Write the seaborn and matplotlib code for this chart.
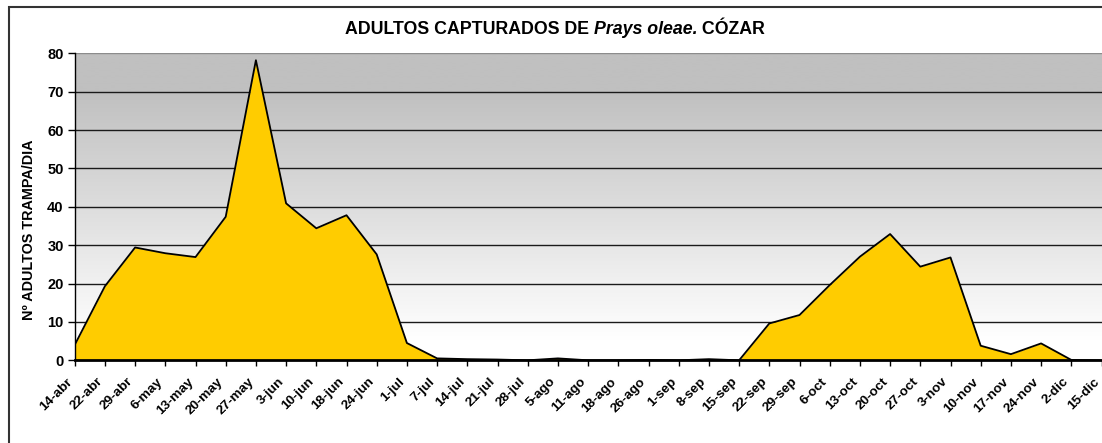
"""
Adultos de Prays oleae capturados en Cózar (trampa/día), gráfico de área.
"""

import matplotlib
matplotlib.use('Agg')
import matplotlib.pyplot as plt
import matplotlib.transforms as mtransforms
from matplotlib.patches import Rectangle
from matplotlib.colors import LinearSegmentedColormap
import numpy as np
import pandas as pd
import seaborn as sns

# DATOS

fechas = ["14-abr", "22-abr", "29-abr", "6-may", "13-may", "20-may", "27-may",
          "3-jun", "10-jun", "18-jun", "24-jun", "1-jul", "7-jul", "14-jul",
          "21-jul", "28-jul", "5-ago", "11-ago", "18-ago", "26-ago", "1-sep",
          "8-sep", "15-sep", "22-sep", "29-sep", "6-oct", "13-oct", "20-oct",
          "27-oct", "3-nov", "10-nov", "17-nov", "24-nov", "2-dic", "15-dic"]

adultos = [4.0, 19.3, 29.4, 27.9, 26.9, 37.4, 78.2,
           40.9, 34.4, 37.8, 27.6, 4.5, 0.5, 0.3,
           0.2, 0.0, 0.5, 0.0, 0.0, 0.1, 0.0,
           0.3, 0.0, 9.6, 11.8, 19.6, 27.0, 32.9,
           24.4, 26.8, 3.8, 1.6, 4.4, 0.1, 0.0]

y_ticks = [0, 10, 20, 30, 40, 50, 60, 70, 80]

sns.set_style("white")
plt.rcParams['font.family'] = ['Liberation Sans', 'DejaVu Sans']
plt.rcParams['font.weight'] = 'bold'
plt.rcParams['text.color'] = 'black'
plt.rcParams['xtick.color'] = 'black'
plt.rcParams['ytick.color'] = 'black'

df = pd.DataFrame({"pos": range(len(fechas)), "fecha": fechas, "adultos": adultos})

W, H = 1102, 443
fig = plt.figure(figsize=(W / 100, H / 100), dpi=100)
ax = fig.add_axes([74.7 / W, 1 - 360.3 / H, (1101.5 - 74.7) / W, (360.3 - 53.3) / H])

# fondo degradado gris -> blanco
vals = np.linspace(80, 0, 400)
level = np.clip((vals - 5) / (70 - 5), 0, 1)
cmap = LinearSegmentedColormap.from_list("fondo", ["#ffffff", "#c0c0c0"])
ax.imshow(level.reshape(-1, 1), cmap=cmap, vmin=0, vmax=1, aspect='auto',
          extent=[0, len(fechas) - 1, 0, 80], zorder=0, interpolation='bilinear')

# lineas de rejilla
for yt in y_ticks[1:]:
    ax.axhline(yt, color="#1a1a1a" if yt < 80 else "#8c8c8c", lw=1.0, zorder=0.5)

# area
ax.fill_between(df["pos"], df["adultos"], color="#ffcc00", zorder=1, lw=0)
sns.lineplot(data=df, x="pos", y="adultos", color="black", lw=1.3, ax=ax, zorder=2)

ax.set_xlim(0, len(fechas) - 1)
ax.set_ylim(0, 80)
ax.set_xlabel("")
ax.set_ylabel("")

ax.set_yticks(y_ticks)
ax.set_yticklabels([str(v) for v in y_ticks], fontsize=10.5, fontweight='bold')
ax.set_xticks(df["pos"])
ax.set_xticklabels(fechas, rotation=45, ha='right', va='top', fontsize=9.7, fontweight='bold')

# desplaza las etiquetas como en Excel
offset = mtransforms.ScaledTranslation(-2 / 100, 0, fig.dpi_scale_trans)
for lab in ax.get_xticklabels():
    lab.set_transform(lab.get_transform() + offset)

ax.tick_params(axis='x', direction='out', length=4, width=1, color='black', pad=7, bottom=True)
ax.tick_params(axis='y', direction='out', length=5, width=1, color='black', pad=3, left=True)

for side in ["top", "right"]:
    ax.spines[side].set_visible(False)
ax.spines["left"].set_color("black")
ax.spines["left"].set_linewidth(1.0)
ax.spines["bottom"].set_color("black")
ax.spines["bottom"].set_linewidth(2.0)
ax.spines["bottom"].set_zorder(3)

# eje y
fig.text(29.5 / W, 1 - 230 / H, "Nº ADULTOS TRAMPA/DIA", rotation=90,
         ha='center', va='center', fontsize=10.4, fontweight='bold')

# titulo con parte en cursiva
partes = [("ADULTOS CAPTURADOS DE ", 'normal'), ("Prays oleae.", 'italic'), (" CÓZAR", 'normal')]
textos = [fig.text(0, 0, t, fontsize=12.8, fontweight='bold', style=s, va='center') for t, s in partes]
fig.canvas.draw()
renderer = fig.canvas.get_renderer()
anchos = [t.get_window_extent(renderer).width for t in textos]
x = 555 - sum(anchos) / 2
for t, w in zip(textos, anchos):
    t.set_position((x / W, 1 - 29 / H))
    x += w

# marco exterior del grafico
fig.patches.append(Rectangle((9 / W, -0.1), 1.2, 1.1 - 7 / H, transform=fig.transFigure,
                             fill=False, edgecolor="#333333", lw=1.5))

fig.savefig("out.png", dpi=100)
